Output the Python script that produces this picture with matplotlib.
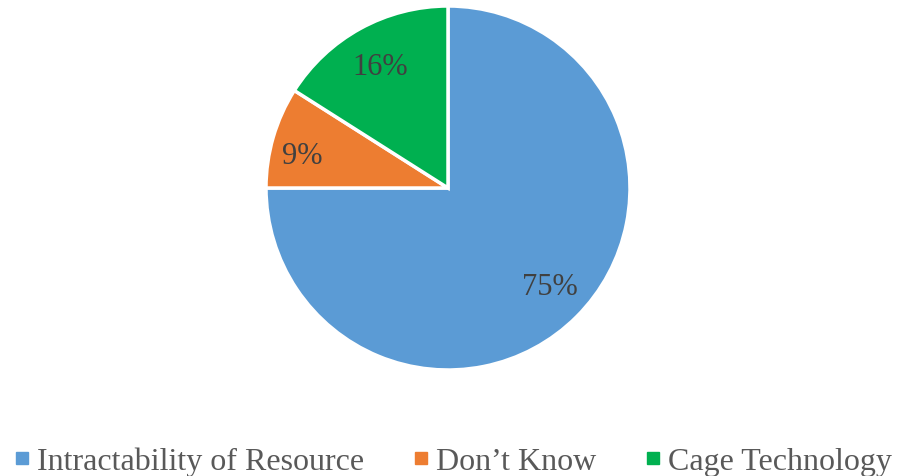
import matplotlib
matplotlib.use("Agg")
import matplotlib.pyplot as plt
import numpy as np
from matplotlib.lines import Line2D

categories = ["Intractability of Resource", "Don\u2019t Know", "Cage Technology"]
shares = [75, 9, 16]
colors = ["#5B9BD5", "#ED7D31", "#00B050"]

# label placement (radius as fraction of pie radius, angle in degrees)
label_radius = [0.766, 0.826, 0.78]
label_angle = [-43.0, 166.0, 118.7]

plt.rcParams["font.family"] = ["Liberation Serif", "DejaVu Serif"]

fig = plt.figure(figsize=(9, 4.77), dpi=100)
# pie axes: center at (448, 189) px from top, radius 182 px
ax = fig.add_axes([266 / 900, 106 / 477, 364 / 900, 364 / 477])
wedges, texts, autotexts = ax.pie(
    shares,
    colors=colors,
    startangle=90,
    counterclock=False,
    radius=1.0,
    autopct="%d%%",
    wedgeprops=dict(edgecolor="white", linewidth=2.5),
    textprops=dict(fontsize=22, color="#404040"),
)
for t, r, a in zip(autotexts, label_radius, label_angle):
    t.set_position((r * np.cos(np.radians(a)), r * np.sin(np.radians(a))))
    t.set_va("center_baseline")
ax.set_xlim(-1, 1)
ax.set_ylim(-1, 1)
ax.set_aspect("equal")
ax.axis("off")

handles = [
    Line2D([], [], marker="s", linestyle="none", markersize=8,
           markerfacecolor=c, markeredgecolor=c)
    for c in colors
]
fig.legend(
    handles, categories,
    loc="center", bbox_to_anchor=(0.5 + 4 / 900, 15 / 477), ncol=3,
    frameon=False, fontsize=23, labelcolor="#595959",
    handlelength=0.35, handletextpad=0.3, columnspacing=1.6,
    borderaxespad=0,
)

fig.savefig("out.png", dpi=100)
